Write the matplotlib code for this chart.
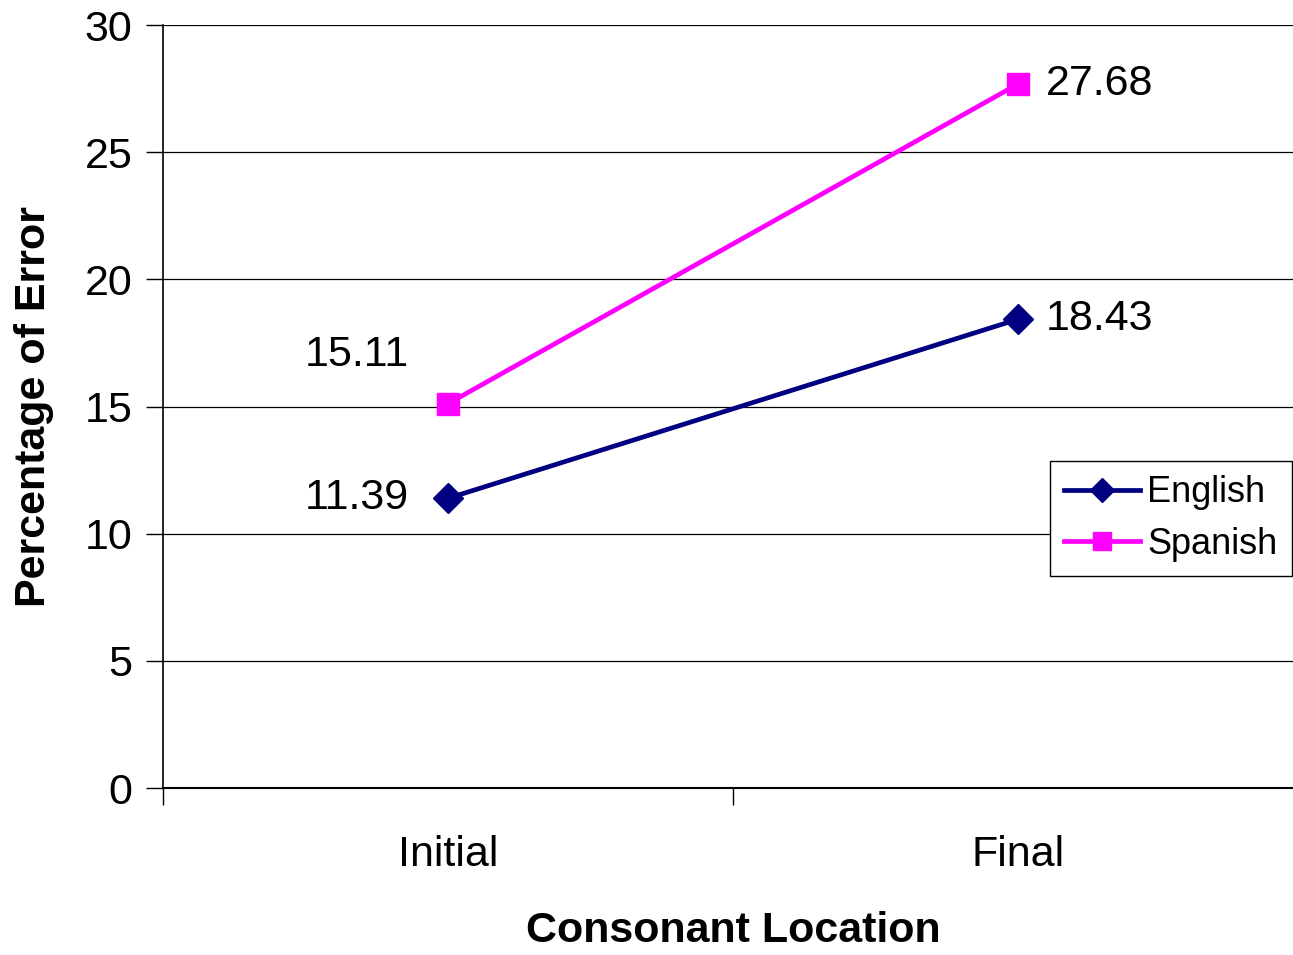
import matplotlib
matplotlib.use("Agg")
import matplotlib.pyplot as plt
from matplotlib.ticker import FixedLocator, FixedFormatter

plt.rcParams['font.family'] = ['Liberation Sans', 'DejaVu Sans']

categories = ["Initial", "Final"]
english = [11.39, 18.43]
spanish = [15.11, 27.68]
yticks = [0, 5, 10, 15, 20, 25, 30]

fig = plt.figure(figsize=(12.93, 9.55), dpi=100)
ax = fig.add_axes([163/1293, 1-788/955, 1140/1293, 763/955])

x = list(range(len(categories)))
ax.plot(x, english, color='#000080', lw=3.4, marker='D', markersize=15, label='English', zorder=3)
ax.plot(x, spanish, color='#FF00FF', lw=3.4, marker='s', markersize=16, label='Spanish', zorder=3)

ax.set_xlim(-0.5, 1.5)
ax.set_ylim(0, 30)
ax.set_yticks(yticks)
ax.yaxis.grid(True, color='#000000', lw=0.9)
ax.set_axisbelow(True)
ax.xaxis.set_major_locator(FixedLocator([-0.5, 0.5, 1.5]))
ax.xaxis.set_ticklabels([])
ax.xaxis.set_minor_locator(FixedLocator(x))
ax.xaxis.set_minor_formatter(FixedFormatter(categories))
ax.tick_params(axis='x', which='minor', length=0, labelsize=31, pad=34)
ax.tick_params(axis='x', which='major', length=12, width=1, direction='out')
ax.tick_params(axis='y', length=12, width=1, direction='out', labelsize=31, pad=10)

for s in ['top', 'right']:
    ax.spines[s].set_visible(False)
ax.spines['left'].set_linewidth(1.2)
ax.spines['bottom'].set_linewidth(1.5)

fs = 31
ax.annotate(f"{english[0]:.2f}", (x[0], english[0]), xytext=(-28, 0), textcoords='offset points',
            ha='right', va='center', fontsize=fs)
ax.annotate(f"{spanish[0]:.2f}", (x[0], spanish[0]), xytext=(-28, 35), textcoords='offset points',
            ha='right', va='center', fontsize=fs)
ax.annotate(f"{english[1]:.2f}", (x[1], english[1]), xytext=(20, 0), textcoords='offset points',
            ha='left', va='center', fontsize=fs)
ax.annotate(f"{spanish[1]:.2f}", (x[1], spanish[1]), xytext=(20, 0), textcoords='offset points',
            ha='left', va='center', fontsize=fs)

ax.set_xlabel("Consonant Location", fontsize=31, fontweight='bold', labelpad=26)
ax.set_ylabel("Percentage of Error", fontsize=31, fontweight='bold', labelpad=22)

leg = ax.legend(loc='upper left', bbox_to_anchor=(1050/1293, 1-461/955), bbox_transform=fig.transFigure,
                fontsize=26, frameon=True, fancybox=False, edgecolor='black', framealpha=1,
                handlelength=2.1, handletextpad=0.2, borderpad=0.4, labelspacing=0.45, borderaxespad=0,
                markerscale=0.8)
leg.get_frame().set_linewidth(1)

fig.savefig("out.png", dpi=100)
